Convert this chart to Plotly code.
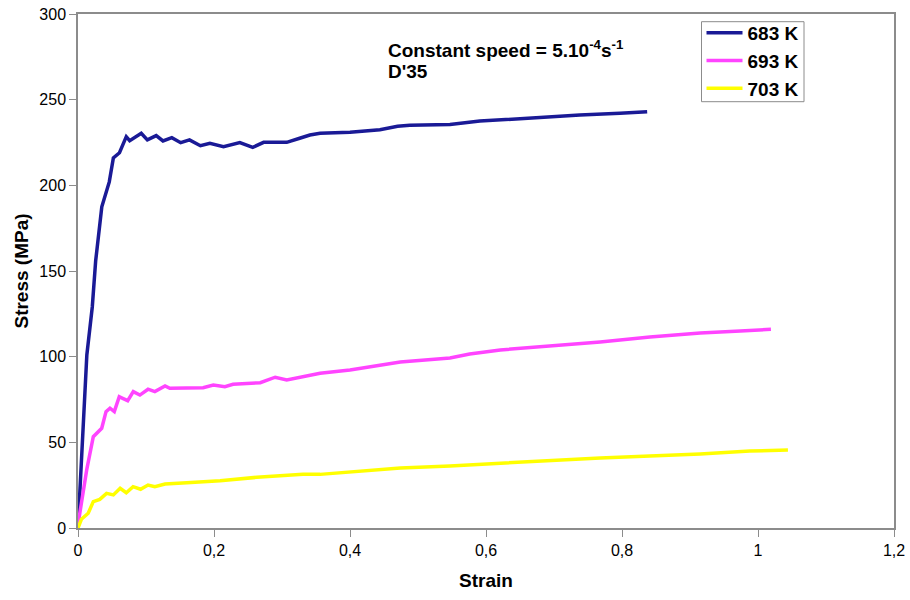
import plotly.graph_objects as go

strain_683 = [0, 0.008, 0.013, 0.021, 0.026, 0.035, 0.046, 0.052, 0.061, 0.071, 0.076, 0.093, 0.102, 0.115,
              0.125, 0.138, 0.151, 0.164, 0.180, 0.194, 0.214, 0.238, 0.257, 0.273, 0.307, 0.326, 0.341,
              0.356, 0.4, 0.444, 0.47, 0.488, 0.547, 0.591, 0.63, 0.665, 0.738, 0.797, 0.837]
stress_683 = [0, 60, 101, 129, 156, 187.5, 202, 216, 219, 228.4, 226.1, 230.4, 226.5, 229.0,
              225.9, 227.8, 224.9, 226.5, 223.1, 224.5, 222.6, 224.9, 222.2, 225.1, 225.1, 227.5, 229.4,
              230.4, 231, 232.5, 234.5, 235, 235.5, 237.5, 238.5, 239, 241, 242, 243]

strain_693 = [0, 0.0128, 0.0225, 0.0349, 0.0412, 0.047, 0.0534, 0.0607, 0.0657, 0.0731, 0.0813, 0.091,
              0.103, 0.113, 0.128, 0.135, 0.184, 0.199, 0.216, 0.228, 0.268, 0.290, 0.307, 0.356, 0.4,
              0.474, 0.547, 0.576, 0.621, 0.694, 0.768, 0.841, 0.915, 0.974, 1.019]
stress_693 = [2, 33.9, 53.3, 58.2, 67.9, 69.9, 67.9, 76.6, 75.7, 74.3, 79.6, 77.6,
              81.0, 79.6, 82.9, 81.5, 81.9, 83.5, 82.5, 83.9, 84.8, 88.0, 86.4, 90.3, 92.2,
              96.9, 99.2, 101.6, 103.9, 106.2, 108.6, 111.5, 113.8, 115, 116]

strain_703 = [0, 0.005, 0.015, 0.0225, 0.032, 0.042, 0.052, 0.062, 0.071, 0.081, 0.092, 0.103, 0.113,
              0.128, 0.16, 0.209, 0.263, 0.331, 0.356, 0.4, 0.474, 0.547, 0.621, 0.694, 0.768, 0.841,
              0.915, 0.988, 1.044]
stress_703 = [0, 5.1, 8.6, 15.4, 16.7, 20.2, 19.3, 23.2, 20.6, 24.1, 22.6, 25.1, 24.1,
              25.7, 26.4, 27.6, 29.6, 31.3, 31.3, 32.7, 35, 36.2, 37.9, 39.1, 40.9, 42,
              43.2, 44.9, 45.5]

series_names = ["683 K", "693 K", "703 K"]
series_colors = ["#1A1A96", "#FF44FF", "#FFFF00"]

x_ticks = [0, 0.2, 0.4, 0.6, 0.8, 1, 1.2]
x_tick_labels = ["0", "0,2", "0,4", "0,6", "0,8", "1", "1,2"]
y_ticks = [0, 50, 100, 150, 200, 250, 300]

FONT = "Arial, Liberation Sans, sans-serif"

fig = go.Figure()
for i, (name, color, xs, ys) in enumerate(zip(series_names, series_colors,
                                              [strain_683, strain_693, strain_703],
                                              [stress_683, stress_693, stress_703])):
    fig.add_trace(go.Scatter(x=xs, y=ys, mode="lines", name="<b>" + name + "</b>",
                             line=dict(color=color, width=3.5)))

L, R, T, B = 78, 16, 14, 72
PW, PH = 910 - L - R, 600 - T - B


def px_x(p):
    return (p - L) / PW


def px_y(p):
    return (600 - B - p) / PH


fig.update_layout(
    width=910, height=600,
    margin=dict(l=L, r=R, t=T, b=B, autoexpand=False),
    paper_bgcolor="white", plot_bgcolor="white",
    font=dict(family=FONT, size=16, color="#000000"),
    xaxis=dict(range=[0, 1.2], tickvals=x_ticks, ticktext=x_tick_labels, automargin=False,
               showgrid=False, zeroline=False, showline=True, linecolor="#8c8c8c", linewidth=1.5,
               mirror=True, ticks="outside", ticklen=7, tickcolor="#8c8c8c",
               tickfont=dict(size=16),
               title=dict(text="<b>Strain</b>", font=dict(size=19), standoff=16)),
    yaxis=dict(range=[0, 300], tickvals=y_ticks, automargin=False,
               showgrid=False, zeroline=False, showline=True, linecolor="#8c8c8c", linewidth=1.5,
               mirror=True, ticks="outside", ticklen=7, tickcolor="#8c8c8c",
               tickfont=dict(size=16),
               title=dict(text="<b>Stress (MPa)</b>", font=dict(size=19), standoff=6)),
    legend=dict(x=px_x(701.5), y=px_y(14), xanchor="left", yanchor="top",
                borderwidth=0, bgcolor="rgba(0,0,0,0)",
                font=dict(size=19, family=FONT),
                itemwidth=36, tracegroupgap=0),
    showlegend=True,
)

fig.add_shape(type="rect", xref="paper", yref="paper",
              x0=px_x(701.5), x1=px_x(804), y0=px_y(101.7), y1=px_y(21.7),
              line=dict(color="#8c8c8c", width=1), fillcolor="rgba(0,0,0,0)", layer="above")

fig.add_annotation(xref="paper", yref="paper", x=px_x(386), y=px_y(49),
                   xanchor="left", yanchor="middle", align="left", showarrow=False,
                   text="<b>Constant speed = 5.10<sup>-4</sup>s<sup>-1</sup></b>",
                   font=dict(size=19, family=FONT))
fig.add_annotation(xref="paper", yref="paper", x=px_x(386), y=px_y(71),
                   xanchor="left", yanchor="middle", align="left", showarrow=False,
                   text="<b>D'35</b>",
                   font=dict(size=19, family=FONT))

fig.write_html("out.html")
